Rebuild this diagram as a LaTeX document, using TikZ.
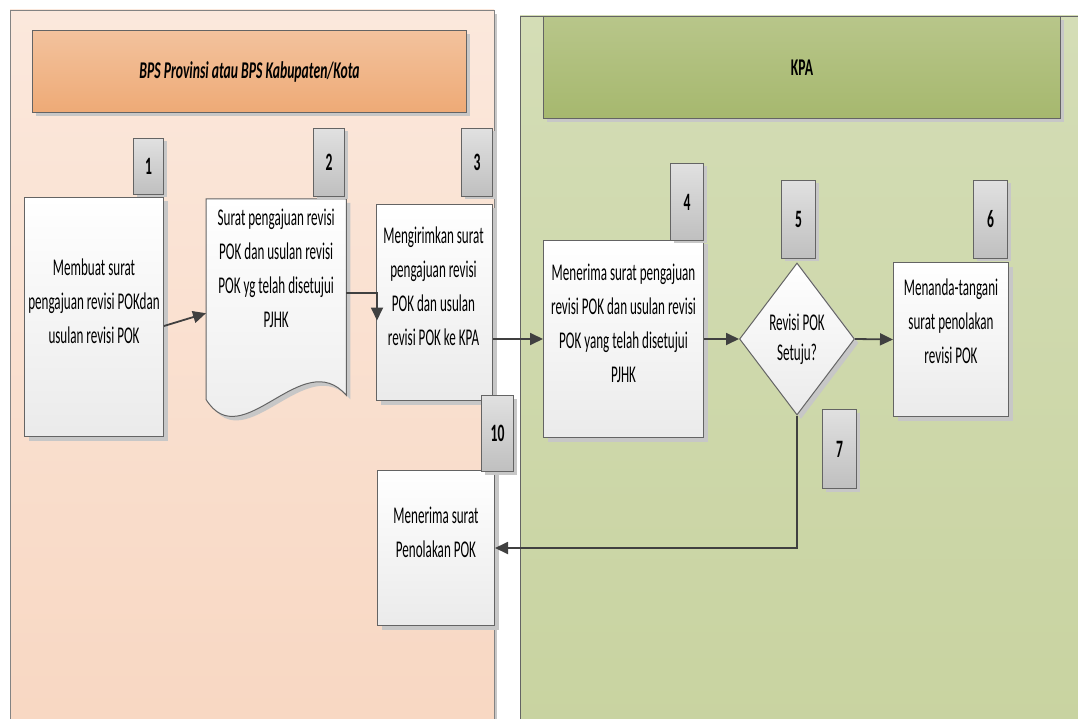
\documentclass[tikz,border=0pt]{standalone}
\usepackage{fontspec}
\setmainfont{Carlito}[FakeStretch=0.545]
\newfontfamily\headfont{Carlito}[FakeStretch=0.57]
\usetikzlibrary{arrows.meta,calc,shadows,shapes.geometric}

\definecolor{laneAtop}{RGB}{251,232,220}
\definecolor{laneAbot}{RGB}{248,215,194}
\definecolor{headAtop}{RGB}{243,194,157}
\definecolor{headAbot}{RGB}{238,170,118}
\definecolor{laneBtop}{RGB}{212,221,182}
\definecolor{laneBbot}{RGB}{200,211,160}
\definecolor{headBtop}{RGB}{184,198,138}
\definecolor{headBbot}{RGB}{166,184,110}
\definecolor{edgegray}{RGB}{100,100,100}
\definecolor{flowgray}{RGB}{64,64,64}

\tikzset{
  steptext/.style={font=\fontsize{24}{34}\selectfont, align=center, inner sep=0pt},
  stepbox/.style={draw=edgegray, line width=1pt, top color=white, bottom color=black!8,
    anchor=north west, inner sep=0pt,
    drop shadow={shadow xshift=4pt, shadow yshift=-4pt, fill=black!22, opacity=1}},
  decision/.style={diamond, draw=edgegray, line width=1pt, top color=white, bottom color=black!8,
    inner sep=0pt, aspect=0.76, font=\fontsize{24}{30}\selectfont, align=center,
    drop shadow={shadow xshift=4pt, shadow yshift=-4pt, fill=black!22, opacity=1}},
  tagbox/.style={draw=edgegray, line width=1pt, top color=black!12, bottom color=black!25,
    anchor=north west, inner sep=0pt, font=\fontsize{25}{26}\selectfont\bfseries,
    drop shadow={shadow xshift=3pt, shadow yshift=-3pt, fill=black!22, opacity=1}},
  lanehead/.style={draw=edgegray, line width=1pt, anchor=north west, inner sep=0pt,
    font=\headfont\fontsize{24}{26}\selectfont\bfseries,
    drop shadow={shadow xshift=3pt, shadow yshift=-4pt, fill=black!22, opacity=1}},
  flow/.style={draw=flowgray, line width=1.8pt, -{Triangle[length=13pt,width=12pt]}}
}

\begin{document}
\begin{tikzpicture}[x=1pt,y=-1pt]
	\useasboundingbox (0,0) rectangle (1078,719);
	% lanes
	\fill[black!22] (494,14) rectangle (497,740);
	\shade[top color=laneAtop, bottom color=laneAbot, draw=edgegray!80] (10,10) rectangle (494,740);
	\shade[top color=laneBtop, bottom color=laneBbot, draw=edgegray] (520,16) rectangle (1090,740);
	\node[lanehead, top color=headAtop, bottom color=headAbot, minimum width=434pt, minimum height=82pt,
		font=\headfont\fontsize{24}{26}\selectfont\bfseries\itshape] (hA) at (32,30) {BPS Provinsi atau BPS Kabupaten/Kota};
	\node[lanehead, top color=headBtop, bottom color=headBbot, minimum width=517pt, minimum height=102pt] (hB) at (543,16) {KPA};

	% steps
	\node[stepbox, minimum width=139pt, minimum height=239pt] (b1) at (24,197) {};
	\node[steptext] (t1) at ($(b1.center)+(0,-16)$) {Membuat surat\\pengajuan revisi POKdan\\usulan revisi POK};

	\node[anchor=north west, minimum width=140pt, minimum height=200pt, inner sep=0pt] (b2) at (206,199) {};
	\fill[black!22, transform canvas={shift={(4pt,-4pt)}}] (b2.north west) -- (b2.north east) -- ($(b2.south east)+(0,-4)$)
		.. controls ($(b2.south east)+(-44,-55)$) and ($(b2.south west)+(36,58)$) .. (b2.south west) -- cycle;
	\shade[top color=white, bottom color=black!8, draw=edgegray, line width=1pt] (b2.north west) -- (b2.north east) -- ($(b2.south east)+(0,-4)$)
		.. controls ($(b2.south east)+(-44,-55)$) and ($(b2.south west)+(36,58)$) .. (b2.south west) -- cycle;
	\node[steptext] (t2) at ($(b2.center)+(0,-31)$) {Surat pengajuan revisi\\POK dan usulan revisi\\POK yg telah disetujui\\PJHK};

	\node[stepbox, minimum width=116pt, minimum height=196pt] (b3) at (376,204) {};
	\node[steptext] (t3) at ($(b3.center)+(-1,-16)$) {Mengirimkan surat\\pengajuan revisi\\POK dan usulan\\revisi POK ke KPA};

	\node[stepbox, minimum width=160pt, minimum height=197pt] (b4) at (543,240) {};
	\node[steptext] (t4) at ($(b4.center)+(0,-16)$) {Menerima surat pengajuan\\revisi POK dan usulan revisi\\POK yang telah disetujui\\PJHK};

	\node[decision, minimum width=115pt, minimum height=152pt] (d5) at (797,339) {Revisi POK\\Setuju?};

	\node[stepbox, minimum width=115pt, minimum height=154pt] (b6) at (893,262) {};
	\node[steptext] (t6) at ($(b6.center)+(0,-18)$) {Menanda-tangani\\surat penolakan\\revisi POK};

	\node[stepbox, minimum width=117pt, minimum height=155pt] (b10) at (377,470) {};
	\node[steptext] (t10) at ($(b10.center)+(0,-16)$) {Menerima surat\\Penolakan POK};

	% connectors
	\draw[flow] ($(b1.east)+(0,9)$) -- ($(b2.west)+(0,14)$);
	\draw[flow] ($(b2.east)+(0,-6)$) -| ($(b3.west)+(1,18)$);
	\draw[flow] (b3.east |- b4.west) -- (b4.west);
	\draw[flow] (b4.east) -- (d5.west);
	\draw[flow] (d5.east) -- (b6.west);
	\draw[flow] (d5.south) |- (b10.east);

	% numbers
	\node[tagbox, minimum width=30pt, minimum height=56pt] (n1) at (133,138) {1};
	\node[tagbox, minimum width=31pt, minimum height=68pt] (n2) at (313,128) {2};
	\node[tagbox, minimum width=31pt, minimum height=68pt] (n3) at (461,128) {3};
	\node[tagbox, minimum width=33pt, minimum height=77pt] (n4) at (670,163) {4};
	\node[tagbox, minimum width=34pt, minimum height=78pt] (n5) at (781,180) {5};
	\node[tagbox, minimum width=34pt, minimum height=78pt] (n6) at (973,180) {6};
	\node[tagbox, minimum width=34pt, minimum height=79pt] (n7) at (822,409) {7};
	\node[tagbox, minimum width=32pt, minimum height=76pt] (n10) at (481,395) {10};
\end{tikzpicture}
\end{document}
